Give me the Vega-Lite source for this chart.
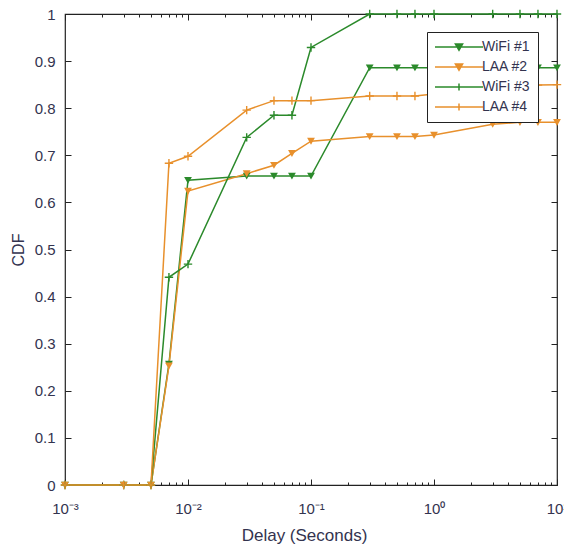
{
  "$schema": "https://vega.github.io/schema/vega-lite/v6.json",
  "width": 492,
  "height": 471,
  "autosize": {"type": "none"},
  "padding": {"left": 65, "top": 14, "right": 7, "bottom": 59},
  "background": "white",
  "config": {"view": {"stroke": "#222222", "strokeWidth": 1.2}, "font": "Liberation Sans"},
  "data": {"values": [
    {"series": "WiFi #1", "x": 0.001, "y": 0}, {"series": "WiFi #1", "x": 0.003, "y": 0}, {"series": "WiFi #1", "x": 0.005, "y": 0},
    {"series": "WiFi #1", "x": 0.007, "y": 0.257}, {"series": "WiFi #1", "x": 0.01, "y": 0.647}, {"series": "WiFi #1", "x": 0.03, "y": 0.656},
    {"series": "WiFi #1", "x": 0.05, "y": 0.656}, {"series": "WiFi #1", "x": 0.07, "y": 0.656}, {"series": "WiFi #1", "x": 0.1, "y": 0.656},
    {"series": "WiFi #1", "x": 0.3, "y": 0.886}, {"series": "WiFi #1", "x": 0.5, "y": 0.886}, {"series": "WiFi #1", "x": 0.7, "y": 0.886},
    {"series": "WiFi #1", "x": 1, "y": 0.886}, {"series": "WiFi #1", "x": 3, "y": 0.886}, {"series": "WiFi #1", "x": 5, "y": 0.886},
    {"series": "WiFi #1", "x": 7, "y": 0.886}, {"series": "WiFi #1", "x": 10, "y": 0.886},
    {"series": "LAA #2", "x": 0.001, "y": 0}, {"series": "LAA #2", "x": 0.003, "y": 0}, {"series": "LAA #2", "x": 0.005, "y": 0},
    {"series": "LAA #2", "x": 0.007, "y": 0.253}, {"series": "LAA #2", "x": 0.01, "y": 0.624}, {"series": "LAA #2", "x": 0.03, "y": 0.661},
    {"series": "LAA #2", "x": 0.05, "y": 0.679}, {"series": "LAA #2", "x": 0.07, "y": 0.704}, {"series": "LAA #2", "x": 0.1, "y": 0.73},
    {"series": "LAA #2", "x": 0.3, "y": 0.74}, {"series": "LAA #2", "x": 0.5, "y": 0.74}, {"series": "LAA #2", "x": 0.7, "y": 0.74},
    {"series": "LAA #2", "x": 1, "y": 0.743}, {"series": "LAA #2", "x": 3, "y": 0.766}, {"series": "LAA #2", "x": 5, "y": 0.77},
    {"series": "LAA #2", "x": 7, "y": 0.77}, {"series": "LAA #2", "x": 10, "y": 0.77},
    {"series": "WiFi #3", "x": 0.001, "y": 0}, {"series": "WiFi #3", "x": 0.003, "y": 0}, {"series": "WiFi #3", "x": 0.005, "y": 0},
    {"series": "WiFi #3", "x": 0.007, "y": 0.441}, {"series": "WiFi #3", "x": 0.01, "y": 0.469}, {"series": "WiFi #3", "x": 0.03, "y": 0.738},
    {"series": "WiFi #3", "x": 0.05, "y": 0.785}, {"series": "WiFi #3", "x": 0.07, "y": 0.785}, {"series": "WiFi #3", "x": 0.1, "y": 0.929},
    {"series": "WiFi #3", "x": 0.3, "y": 1}, {"series": "WiFi #3", "x": 0.5, "y": 1}, {"series": "WiFi #3", "x": 0.7, "y": 1},
    {"series": "WiFi #3", "x": 1, "y": 1}, {"series": "WiFi #3", "x": 3, "y": 1}, {"series": "WiFi #3", "x": 5, "y": 1},
    {"series": "WiFi #3", "x": 7, "y": 1}, {"series": "WiFi #3", "x": 10, "y": 1},
    {"series": "LAA #4", "x": 0.001, "y": 0}, {"series": "LAA #4", "x": 0.003, "y": 0}, {"series": "LAA #4", "x": 0.005, "y": 0},
    {"series": "LAA #4", "x": 0.007, "y": 0.683}, {"series": "LAA #4", "x": 0.01, "y": 0.698}, {"series": "LAA #4", "x": 0.03, "y": 0.796},
    {"series": "LAA #4", "x": 0.05, "y": 0.816}, {"series": "LAA #4", "x": 0.07, "y": 0.816}, {"series": "LAA #4", "x": 0.1, "y": 0.816},
    {"series": "LAA #4", "x": 0.3, "y": 0.826}, {"series": "LAA #4", "x": 0.5, "y": 0.826}, {"series": "LAA #4", "x": 0.7, "y": 0.826},
    {"series": "LAA #4", "x": 1, "y": 0.83}, {"series": "LAA #4", "x": 3, "y": 0.845}, {"series": "LAA #4", "x": 5, "y": 0.848},
    {"series": "LAA #4", "x": 7, "y": 0.849}, {"series": "LAA #4", "x": 10, "y": 0.85}
  ]},
  "layer": [
    {
      "mark": {"type": "line", "strokeWidth": 1.5},
      "encoding": {
        "x": {
          "field": "x", "type": "quantitative",
          "scale": {"type": "log", "domain": [0.001, 10]},
          "axis": {
            "orient": "bottom",
            "values": [0.001,0.002,0.003,0.004,0.005,0.006,0.007,0.008,0.009,0.01,0.02,0.03,0.04,0.05,0.06,0.07,0.08,0.09,0.1,0.2,0.3,0.4,0.5,0.6,0.7,0.8,0.9,1,2,3,4,5,6,7,8,9,10],
            "labelExpr": "datum.value == 0.001 ? '10⁻³' : datum.value == 0.01 ? '10⁻²' : datum.value == 0.1 ? '10⁻¹' : datum.value == 1 ? '10⁰' : datum.value == 10 ? '10¹' : ''",
            "tickSize": {"condition": {"test": "indexof([0.001,0.01,0.1,1,10], datum.value) >= 0", "value": -6}, "value": -3},
            "tickColor": "#222222",
            "domain": false,
            "grid": false,
            "labelFontSize": 15,
            "labelColor": "#33334f",
            "labelPadding": 22,
            "labelFlush": false,
            "labelOverlap": false,
            "title": "Delay (Seconds)",
            "titleFontSize": 17,
            "titleFontWeight": "normal",
            "titleColor": "#33334f",
            "titleX": 239,
            "titleY": 55,
            "titleBaseline": "alphabetic"
          }
        },
        "y": {
          "field": "y", "type": "quantitative",
          "scale": {"domain": [0, 1]},
          "axis": {
            "orient": "left",
            "values": [0,0.1,0.2,0.3,0.4,0.5,0.6,0.7,0.8,0.9,1],
            "format": "~g",
            "tickSize": -6,
            "tickColor": "#222222",
            "domain": false,
            "grid": false,
            "labelFontSize": 15,
            "labelColor": "#33334f",
            "labelPadding": 16,
            "title": "CDF",
            "titleFontSize": 16,
            "titleFontWeight": "normal",
            "titleColor": "#33334f",
            "titlePadding": 8
          }
        },
        "color": {
          "field": "series", "type": "nominal",
          "scale": {"domain": ["WiFi #1", "LAA #2", "WiFi #3", "LAA #4"], "range": ["#2b8a2b", "#e8902c", "#2b8a2b", "#e8902c"]},
          "legend": {
            "orient": "none", "legendX": 362, "legendY": 18,
            "title": null,
            "strokeColor": "#222222", "fillColor": "white", "padding": 8,
            "symbolSize": 144, "symbolOffset": 17, "labelOffset": 16,
            "labelFontSize": 14, "labelColor": "#33334f", "rowPadding": 6,
            "encode": {"symbols": {"update": {
              "shape": {"signal": "datum.value === 'WiFi #1' || datum.value === 'LAA #2' ? 'M-4,0H4M-0.6,-0.5L0.6,-0.5L0,0.55Z' : 'M-4,0H4M0,-0.6V0.6'"},
              "size": {"value": 144},
              "stroke": {"signal": "scale('color', datum.value)"},
              "fill": {"signal": "datum.value === 'WiFi #1' || datum.value === 'LAA #2' ? scale('color', datum.value) : 'transparent'"},
              "strokeWidth": {"value": 1.5},
              "opacity": {"value": 1}
            }}}
          }
        }
      }
    },
    {
      "transform": [{"filter": "datum.series === 'WiFi #1' || datum.series === 'LAA #2'"}],
      "mark": {"type": "point", "filled": true, "opacity": 1, "shape": "M-0.65,-0.55L0.65,-0.55L0,0.6Z", "size": 144},
      "encoding": {
        "x": {"field": "x", "type": "quantitative", "scale": {"type": "log", "domain": [0.001, 10]}, "axis": null},
        "y": {"field": "y", "type": "quantitative", "scale": {"domain": [0, 1]}, "axis": null},
        "color": {"field": "series", "type": "nominal"}
      }
    },
    {
      "transform": [{"filter": "datum.series === 'WiFi #3' || datum.series === 'LAA #4'"}],
      "mark": {"type": "point", "filled": false, "strokeWidth": 1.4, "opacity": 1, "shape": "M-0.7,0H0.7M0,-0.7V0.7", "size": 144},
      "encoding": {
        "x": {"field": "x", "type": "quantitative", "scale": {"type": "log", "domain": [0.001, 10]}, "axis": null},
        "y": {"field": "y", "type": "quantitative", "scale": {"domain": [0, 1]}, "axis": null},
        "color": {"field": "series", "type": "nominal"}
      }
    },
    {
      "mark": {"type": "point", "opacity": 0},
      "encoding": {
        "x": {
          "field": "x", "type": "quantitative", "scale": {"type": "log", "domain": [0.001, 10]},
          "axis": {
            "orient": "top",
            "values": [0.001,0.002,0.003,0.004,0.005,0.006,0.007,0.008,0.009,0.01,0.02,0.03,0.04,0.05,0.06,0.07,0.08,0.09,0.1,0.2,0.3,0.4,0.5,0.6,0.7,0.8,0.9,1,2,3,4,5,6,7,8,9,10],
            "labels": false, "title": null, "domain": false, "grid": false,
            "tickColor": "#222222",
            "tickSize": {"condition": {"test": "indexof([0.001,0.01,0.1,1,10], datum.value) >= 0", "value": -6}, "value": -3}
          }
        },
        "y": {
          "field": "y", "type": "quantitative", "scale": {"domain": [0, 1]},
          "axis": {
            "orient": "right",
            "values": [0,0.1,0.2,0.3,0.4,0.5,0.6,0.7,0.8,0.9,1],
            "labels": false, "title": null, "domain": false, "grid": false,
            "tickColor": "#222222", "tickSize": -6
          }
        }
      }
    }
  ],
  "resolve": {"axis": {"x": "independent", "y": "independent"}}
}
